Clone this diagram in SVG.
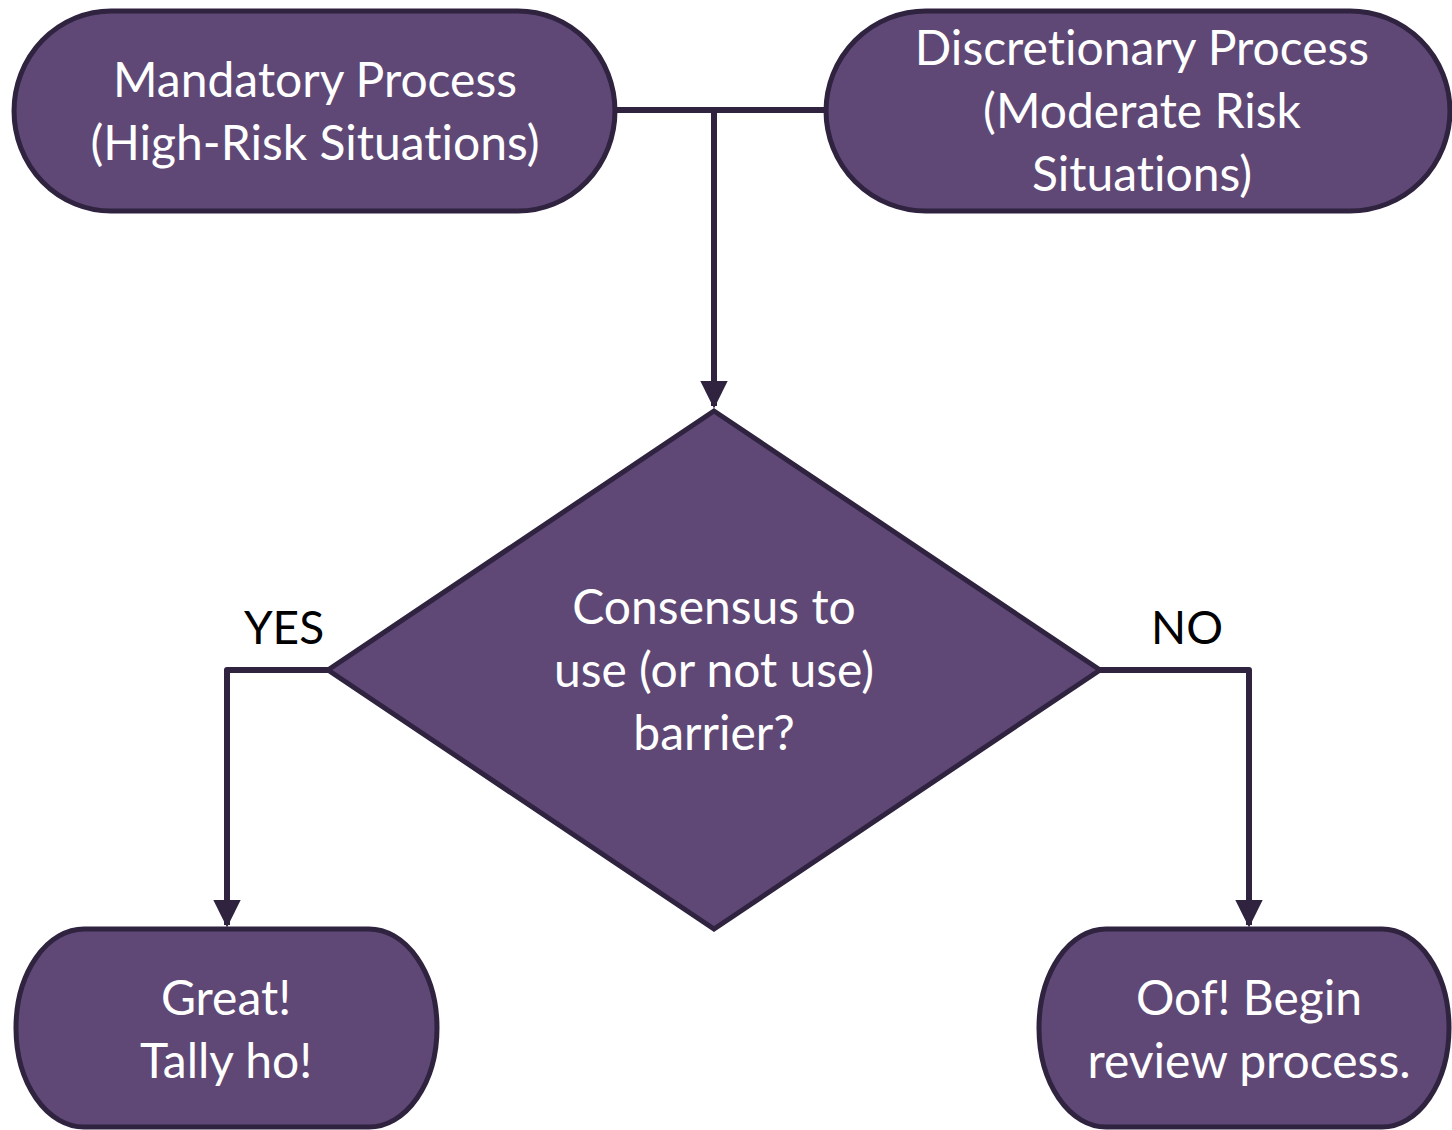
<svg xmlns="http://www.w3.org/2000/svg" width="1452" height="1130" viewBox="0 0 1452 1130">
<defs>
<style>
.node{fill:#5f4876;stroke:#2f2340;stroke-width:5}
.t{font-family:Lato,"Liberation Sans",sans-serif;font-size:48px;fill:#ffffff;text-anchor:middle;font-variant-ligatures:none}
.lbl{font-family:Lato,"Liberation Sans",sans-serif;font-size:46px;fill:#000000;text-anchor:middle}
.conn{fill:none;stroke:#2f2340;stroke-width:6;stroke-linejoin:round}
</style>
<marker id="arr" markerWidth="5" markerHeight="5" refX="4.2" refY="2.5" orient="auto" markerUnits="strokeWidth">
<path d="M0,0.2 L4.6,2.5 L0,4.8 Z" fill="#2f2340"/>
</marker>
</defs>
<rect width="1452" height="1130" fill="#ffffff"/>
<g id="connectors">
<path class="conn" d="M615,110 H825"/>
<path class="conn" d="M714,110 V406" marker-end="url(#arr)"/>
<path class="conn" d="M328,670 H227 V925" marker-end="url(#arr)"/>
<path class="conn" d="M1100,670 H1249 V925" marker-end="url(#arr)"/>
</g>
<g id="mandatory">
<path class="node" d="M111,11 H518 A97,100 0 0 1 518,211 H111 A97,100 0 0 1 111,11 Z"/>
<text class="t" x="315" y="97">Mandatory Process</text>
<text class="t" x="315" y="160">(High-Risk Situations)</text>
</g>
<g id="discretionary">
<path class="node" d="M926,11 H1350 A100,100 0 0 1 1350,211 H926 A100,100 0 0 1 926,11 Z"/>
<text class="t" x="1142" y="65">Discretionary Process</text>
<text class="t" x="1142" y="128">(Moderate Risk</text>
<text class="t" x="1142" y="191">Situations)</text>
</g>
<g id="decision">
<polygon class="node" points="714,411 1100,670 714,929 328,670"/>
<text class="t" x="714" y="624">Consensus to</text>
<text class="t" x="714" y="687">use (or not use)</text>
<text class="t" x="714" y="750">barrier?</text>
</g>
<g id="yes-label"><text class="lbl" x="284" y="644">YES</text></g>
<g id="no-label"><text class="lbl" x="1187" y="644">NO</text></g>
<g id="great">
<path class="node" d="M84,929 H369 A68,99 0 0 1 369,1127 H84 A68,99 0 0 1 84,929 Z"/>
<text class="t" x="226" y="1015">Great!</text>
<text class="t" x="226" y="1078">Tally ho!</text>
</g>
<g id="oof">
<path class="node" d="M1106,929 H1382 A67,99 0 0 1 1382,1127 H1106 A67,99 0 0 1 1106,929 Z"/>
<text class="t" x="1249" y="1015">Oof! Begin</text>
<text class="t" x="1249" y="1078">review process.</text>
</g>
</svg>
